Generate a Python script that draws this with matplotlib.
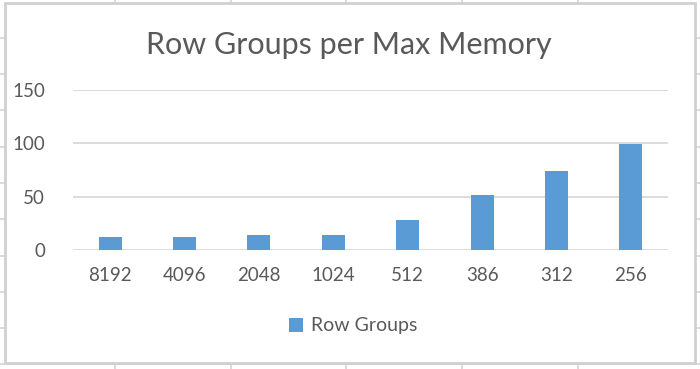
import matplotlib
matplotlib.use('Agg')
import matplotlib.pyplot as plt
import numpy as np
from matplotlib import rcParams
from matplotlib.patches import Rectangle
from matplotlib.lines import Line2D

rcParams['font.family'] = 'Lato'

# Data
memory_labels = ['8192', '4096', '2048', '1024', '512', '386', '312', '256']
row_groups = [12, 12, 14, 14, 28, 52, 74, 99]
y_ticks = [0, 50, 100, 150]

W, H = 700, 369
fig = plt.figure(figsize=(W / 100, H / 100), dpi=100)
fig.patch.set_facecolor('white')

# spreadsheet cell lines behind the chart
cell_cols = [115, 231, 346, 462, 578]
cell_rows = [38, 74, 110, 147, 183, 219, 256, 292, 328, 364]
for cx in cell_cols:
    fig.add_artist(Line2D([cx / W, cx / W], [0, 1], color='#D4D4D4', lw=1.2, zorder=0))
for ry in cell_rows:
    fig.add_artist(Line2D([0, 1], [1 - ry / H, 1 - ry / H], color='#D4D4D4', lw=1.2, zorder=0))

# chart area
fig.add_artist(Rectangle((4.5 / W, 1 - 362.5 / H), (694.5 - 4.5) / W, (362.5 - 2.5) / H,
                         facecolor='white', edgecolor='#D0D0D0', lw=2, zorder=1))

ax = fig.add_axes([73 / W, 1 - 250 / H, (668 - 73) / W, (250 - 90) / H], zorder=2)
ax.patch.set_alpha(0)

x = np.arange(len(memory_labels))
ax.bar(x, row_groups, width=0.31, color='#5B9BD5', label='Row Groups', zorder=3)

ax.set_xlim(-0.5, len(memory_labels) - 0.5)
ax.set_ylim(0, 150)
ax.set_yticks(y_ticks)
ax.set_xticks(x)
ax.set_xticklabels(memory_labels)
ax.grid(axis='y', color='#D9D9D9', lw=1.3)
ax.set_axisbelow(True)
for s in ax.spines.values():
    s.set_visible(False)
ax.tick_params(length=0, labelsize=13.5, labelcolor='#595959')
ax.tick_params(axis='y', pad=20)
ax.tick_params(axis='x', pad=12)

fig.text(349 / W, 1 - 45 / H, 'Row Groups per Max Memory', ha='center', va='center',
         fontsize=22, color='#595959')

fig.legend(loc='center', bbox_to_anchor=(353 / W, 1 - 326 / H), frameon=False,
           fontsize=14, labelcolor='#595959', handlelength=0.7, handleheight=0.7,
           handletextpad=0.4)

fig.savefig('out.png', dpi=100)
